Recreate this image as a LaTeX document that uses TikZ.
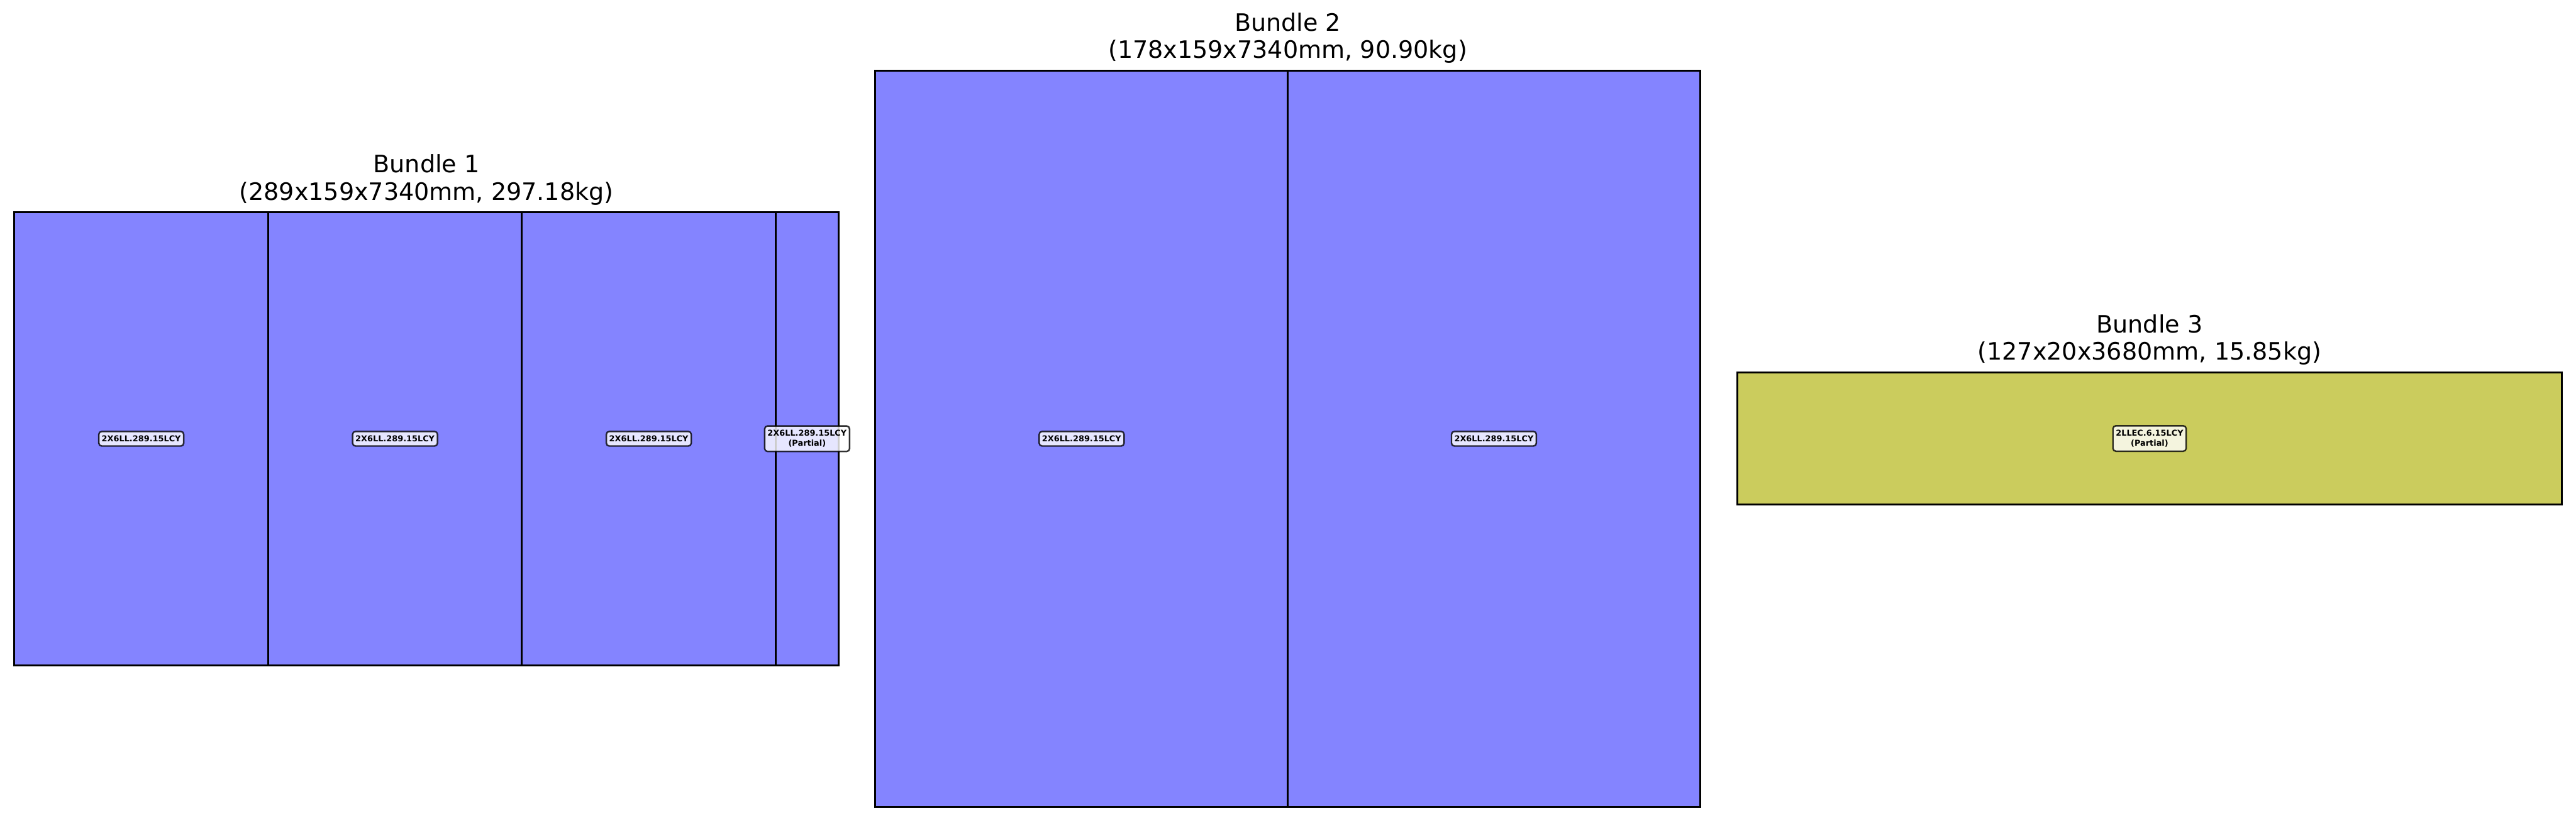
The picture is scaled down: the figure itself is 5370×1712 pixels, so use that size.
\documentclass[tikz,border=0pt]{standalone}
\usepackage{fontspec}
\setmainfont{DejaVu Sans}
\usetikzlibrary{positioning}
\definecolor{BundleBlue}{RGB}{132,132,255}
\definecolor{BundleOlive}{RGB}{203,204,93}

\begin{document}
\begin{tikzpicture}[
    x=0.01cm,
    y=-0.01cm,
    piece/.style={
        draw,
        line width=1.1pt,
        inner sep=0pt,
        outer sep=0pt
    },
    tag/.style={
        draw=black,
        draw opacity=0.8,
        fill=white,
        fill opacity=0.8,
        text opacity=1,
        line width=0.9pt,
        rounded corners=1.7pt,
        inner xsep=1.7pt,
        inner ysep=2.5pt,
        align=center,
        font=\bfseries\fontsize{4.8}{5.9}\selectfont
    },
    title/.style={
        anchor=south,
        inner sep=0pt,
        align=center,
        font=\fontsize{14.2}{16.3}\selectfont
    }
]
\useasboundingbox (0,0) rectangle (5370,1712);

\node[piece, fill=BundleBlue, minimum width=5.29cm, minimum height=9.44cm] (b1p1) at (294.5,915) {};
\node[piece, fill=BundleBlue, minimum width=5.29cm, minimum height=9.44cm] (b1p2) at (823.5,915) {};
\node[piece, fill=BundleBlue, minimum width=5.29cm, minimum height=9.44cm] (b1p3) at (1352.5,915) {};
\node[piece, fill=BundleBlue, minimum width=1.31cm, minimum height=9.44cm] (b1p4) at (1682.5,915) {};

\node[piece, fill=BundleBlue, minimum width=8.595cm, minimum height=15.34cm] (b2p1) at (2254.75,915) {};
\node[piece, fill=BundleBlue, minimum width=8.595cm, minimum height=15.34cm] (b2p2) at (3114.25,915) {};

\node[piece, fill=BundleOlive, minimum width=17.18cm, minimum height=2.75cm] (b3p1) at (4481,914.5) {};

\node[tag] (t1p1) at (b1p1) {2X6LL.289.15LCY};
\node[tag] (t1p2) at (b1p2) {2X6LL.289.15LCY};
\node[tag] (t1p3) at (b1p3) {2X6LL.289.15LCY};
\node[tag] (t1p4) at (b1p4) {2X6LL.289.15LCY\\(Partial)};
\node[tag] (t2p1) at (b2p1) {2X6LL.289.15LCY};
\node[tag] (t2p2) at (b2p2) {2X6LL.289.15LCY};
\node[tag] (t3p1) at (b3p1) {2LLEC.6.15LCY\\(Partial)};

\node[title] (title1) at (889,428) {Bundle 1\\(289x159x7340mm, 297.18kg)};
\node[title] (title2) at (2684.5,133) {Bundle 2\\(178x159x7340mm, 90.90kg)};
\node[title] (title3) at (4481,762) {Bundle 3\\(127x20x3680mm, 15.85kg)};

\end{tikzpicture}
\end{document}
